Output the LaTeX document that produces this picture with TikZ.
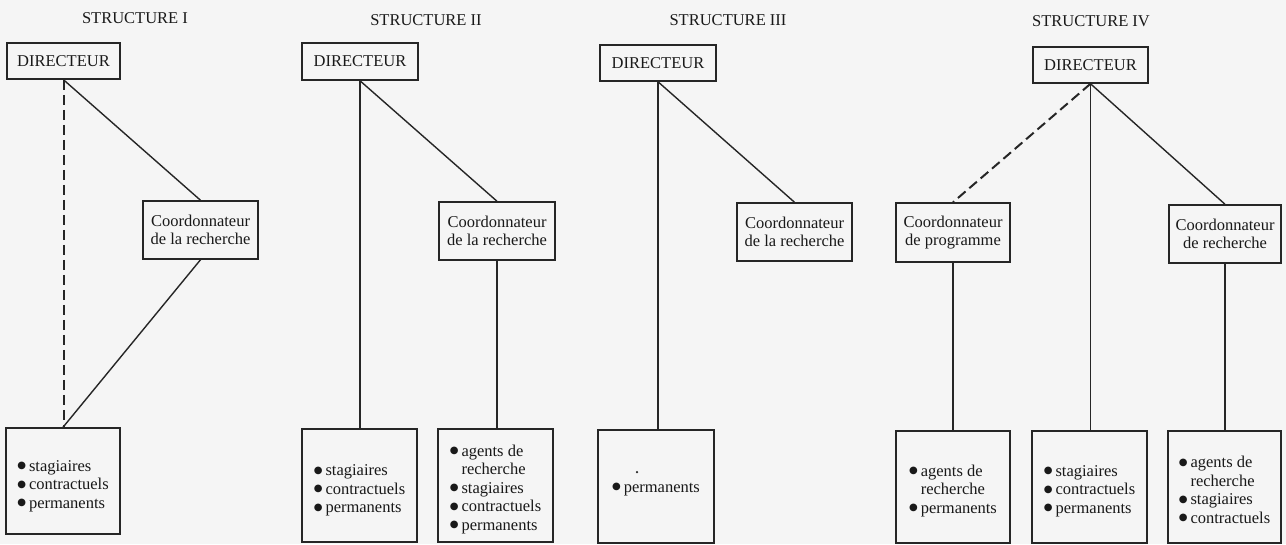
\documentclass[tikz,border=0pt]{standalone}
\usepackage{fontspec}
\setmainfont{Liberation Serif}
\newfontfamily\djv{DejaVu Sans}
\begin{document}
\begin{tikzpicture}[x=1pt,y=-1pt,
  ink/.style={draw=black!85},
  box/.style={ink,line width=1.5pt,rectangle,inner sep=0pt,align=center,
    font=\fontsize{16.5}{18.5}\selectfont,text=black!90},
  lbox/.style={ink,line width=1.5pt,rectangle,inner sep=0pt},
  lst/.style={inner sep=0pt,font=\fontsize{16.5}{18.5}\selectfont,text=black!90},
  title/.style={font=\fontsize{16.5}{18.5}\selectfont,text=black!90,inner sep=0pt},
  link/.style={ink,line width=1.4pt},
  dlink/.style={ink,line width=2pt,dash pattern=on 10pt off 5pt},
  dot/.style={circle,fill=black!85,inner sep=0pt,minimum size=2.5pt}
]
\fill[black!4] (0,0) rectangle (1286,544);
\useasboundingbox (0,0) rectangle (1286,544);
\newcommand{\bl}{\raisebox{2.6pt}{\djv\fontsize{10}{10}\selectfont ●}}
\newcommand{\lsttab}[1]{\begin{tabular}{@{}l@{\hspace{3pt}}l@{}}#1\end{tabular}}
% Titles
\node[title] (t1) at (135,18) {STRUCTURE I};
\node[title] (t2) at (426,20) {STRUCTURE II};
\node[title] (t3) at (728,20) {STRUCTURE III};
\node[title] (t4) at (1091,21) {STRUCTURE IV};
% Structure I
\node[box,minimum width=113pt,minimum height=36pt] (d1) at (63.5,61) {DIRECTEUR};
\node[box,minimum width=115pt,minimum height=58pt] (c1) at (200.5,230) {Coordonnateur\\de la recherche};
\node[lbox,minimum width=114pt,minimum height=106pt] (b1) at (63,481) {};
\node[lst] (b1t) at ([yshift=-5pt]b1.center) {\lsttab{\bl&stagiaires\\\bl&contractuels\\\bl&permanents}};
\draw[dlink] (d1.south) -- (d1.south |- b1.north);
\draw[link] (d1.south) -- (c1.north);
\draw[link] (c1.south) -- (b1.north);
% Structure II
\node[box,minimum width=116pt,minimum height=37pt] (d2) at (360,61.5) {DIRECTEUR};
\node[box,minimum width=116pt,minimum height=58pt] (c2) at (497,231) {Coordonnateur\\de la recherche};
\node[lbox,minimum width=115pt,minimum height=113pt] (b2a) at (359.5,485.5) {};
\node[lst] (b2at) at ([yshift=-5pt]b2a.center) {\lsttab{\bl&stagiaires\\\bl&contractuels\\\bl&permanents}};
\node[lbox,minimum width=115pt,minimum height=113pt] (b2b) at (495.5,485.5) {};
\node[lst] (b2bt) at ([yshift=-4pt]b2b.center) {\lsttab{\bl&agents de\\&recherche\\\bl&stagiaires\\\bl&contractuels\\\bl&permanents}};
\draw[link] (d2.south) -- (d2.south |- b2a.north);
\draw[link] (d2.south) -- (c2.north);
\draw[link] (c2.south) -- (c2.south |- b2b.north);
% Structure III
\node[box,minimum width=116pt,minimum height=36pt] (d3) at (658,63) {DIRECTEUR};
\node[box,minimum width=115pt,minimum height=58pt] (c3) at (794.5,232) {Coordonnateur\\de la recherche};
\node[lbox,minimum width=116pt,minimum height=113pt] (b3) at (656,486.5) {};
\node[lst] (b3t) at ([yshift=-2pt]b3.center) {\lsttab{\bl&permanents}};
\node[dot] (s3) at (637,472) {};
\draw[link] (d3.south) -- (d3.south |- b3.north);
\draw[link] (d3.south) -- (c3.north);
% Structure IV
\node[box,minimum width=115pt,minimum height=36pt] (d4) at (1090.5,65) {DIRECTEUR};
\node[box,minimum width=114pt,minimum height=59pt] (cp4) at (953,232.5) {Coordonnateur\\de programme};
\node[box,minimum width=112pt,minimum height=58pt] (cr4) at (1225,234) {Coordonnateur\\de recherche};
\node[lbox,minimum width=114pt,minimum height=112pt] (b4a) at (953,487) {};
\node[lst] (b4at) at ([yshift=-4pt]b4a.center) {\lsttab{\bl&agents de\\&recherche\\\bl&permanents}};
\node[lbox,minimum width=115pt,minimum height=112pt] (b4b) at (1089.5,487) {};
\node[lst] (b4bt) at ([yshift=-4pt]b4b.center) {\lsttab{\bl&stagiaires\\\bl&contractuels\\\bl&permanents}};
\node[lbox,minimum width=113pt,minimum height=112pt] (b4c) at (1224.5,487) {};
\node[lst] (b4ct) at ([yshift=-5pt]b4c.center) {\lsttab{\bl&agents de\\&recherche\\\bl&stagiaires\\\bl&contractuels}};
\draw[dlink] (d4.south) -- (cp4.north);
\draw[link] (d4.south) -- (d4.south |- b4b.north);
\draw[link] (d4.south) -- (cr4.north);
\draw[link] (cp4.south) -- (b4a.north);
\draw[link] (cr4.south) -- (cr4.south |- b4c.north);
\end{tikzpicture}
\end{document}
